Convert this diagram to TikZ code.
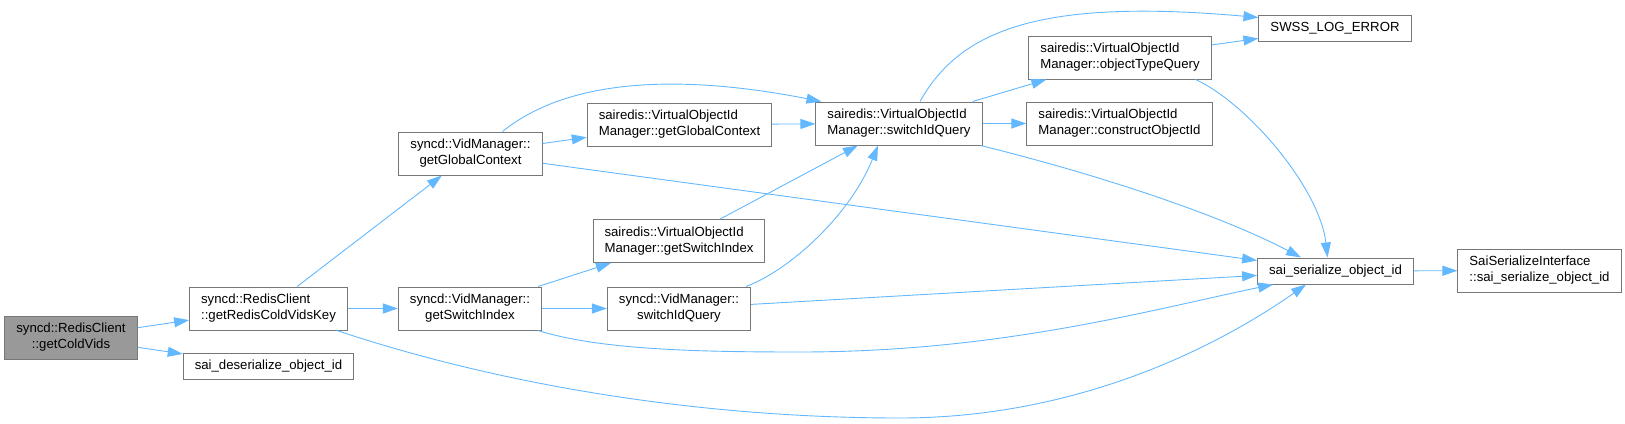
\documentclass[tikz,border=0pt]{standalone}
\usepackage{fontspec}
\setmainfont{Liberation Sans}
\usepackage{xcolor}
\usepackage{tikz}
\usetikzlibrary{arrows.meta, calc}

\definecolor{callblue}{HTML}{63B8FF}
\definecolor{boxgray}{HTML}{777777}
\definecolor{rootgray}{HTML}{999999}

\begin{document}
\begin{tikzpicture}[x=1pt, y=-1pt,
  fn/.style={draw=boxgray, line width=1pt, fill=white, inner xsep=11.5pt, inner ysep=0pt,
    minimum height=43pt, font=\fontsize{13.2}{16}\selectfont},
  fnone/.style={fn, minimum height=26pt},
  call/.style={draw=callblue, line width=0.9pt, -{Triangle[length=15pt,width=10pt]}}]
  \useasboundingbox (0,0) rectangle (1625,423);

  % Functions, placed at pixel positions of the call graph
  \node[fn, fill=rootgray, align=center] (cold) at (71,337.5) {syncd::RedisClient\\::getColdVids};
  \node[fn, align=left] (key) at (268.5,308.5) {syncd::RedisClient\\::getRedisColdVidsKey};
  \node[fnone] (deser) at (268.5,366.5) {sai\_deserialize\_object\_id};
  \node[fn, align=center] (vgc) at (470.5,153.5) {syncd::VidManager::\\getGlobalContext};
  \node[fn, align=center] (vgsi) at (470,308.5) {syncd::VidManager::\\getSwitchIndex};
  \node[fn, align=left] (sgc) at (679.5,124.5) {sairedis::VirtualObjectId\\Manager::getGlobalContext};
  \node[fn, align=left] (sgsi) at (679,241) {sairedis::VirtualObjectId\\Manager::getSwitchIndex};
  \node[fn, align=center] (vsiq) at (679,308.5) {syncd::VidManager::\\switchIdQuery};
  \node[fn, align=left] (ssiq) at (899,123.5) {sairedis::VirtualObjectId\\Manager::switchIdQuery};
  \node[fn, align=left] (otq) at (1120,57.5) {sairedis::VirtualObjectId\\Manager::objectTypeQuery};
  \node[fn, align=left] (coid) at (1119.5,123.5) {sairedis::VirtualObjectId\\Manager::constructObjectId};
  \node[fnone] (logerr) at (1335,28) {SWSS\_LOG\_ERROR};
  \node[fnone] (ser) at (1335.5,271) {sai\_serialize\_object\_id};
  \node[fn, align=left] (iser) at (1539.5,270.5) {SaiSerializeInterface\\::sai\_serialize\_object\_id};

  % Straight calls
  \draw[call] (cold) -- (key);
  \draw[call] (cold) -- (deser);
  \draw[call] (key) -- (vgc);
  \draw[call] (key) -- (vgsi);
  \draw[call] (vgc) -- (sgc);
  \draw[call] (vgc) -- (ser);
  \draw[call] (sgc) -- (ssiq);
  \draw[call] (vgsi) -- (sgsi);
  \draw[call] (vgsi) -- (vsiq);
  \draw[call] (sgsi) -- (ssiq);
  \draw[call] (vsiq) -- (ser);
  \draw[call] (ssiq) -- (otq);
  \draw[call] (ssiq) -- (coid);
  \draw[call] (otq) -- (logerr);
  \draw[call] (ser) -- (iser);

  % Curved calls
  \draw[call] ($(vgc.north)+(32,0)$) .. controls (560,85) and (660,70) .. ($(ssiq.north west)+(6,0)$);
  \draw[call] ($(vsiq.north east)+(-5,0)$) .. controls (790,270) and (850,215) .. ($(ssiq.south)+(-21,0)$);
  \draw[call] ($(ssiq.north)+(21,0)$) .. controls (960,30) and (1040,-2) .. ($(logerr.north west)+(0,3)$);
  \draw[call] ($(ssiq.south east)+(-2,0)$) .. controls (1100,175) and (1220,215) .. ($(ser.north west)+(44,0)$);
  \draw[call] ($(otq.south east)+(-16,0)$) .. controls (1250,105) and (1320,190) .. ($(ser.north)+(-8,0)$);
  \draw[call] ($(key.south east)+(-11,0)$) .. controls (500,385) and (700,418) .. (900,418)
    .. controls (1080,418) and (1220,345) .. ($(ser.south west)+(49,0)$);
  \draw[call] ($(vgsi.south east)+(-4,0)$) .. controls (600,350) and (700,352) .. (800,352)
    .. controls (1000,352) and (1150,310) .. ($(ser.south west)+(16,0)$);
\end{tikzpicture}
\end{document}
